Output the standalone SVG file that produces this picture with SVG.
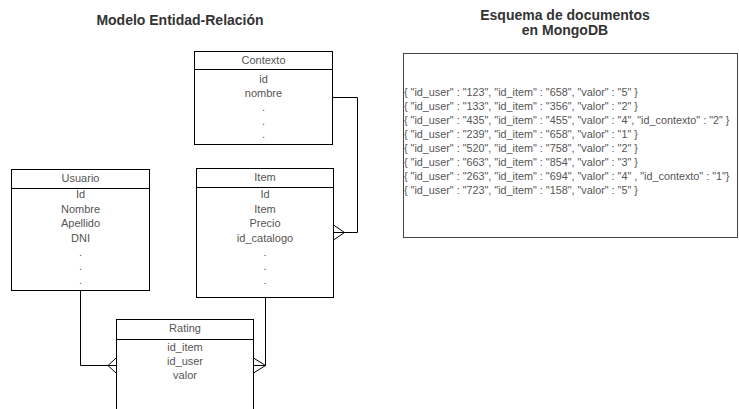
<svg xmlns="http://www.w3.org/2000/svg" width="739" height="409" viewBox="0 0 739 409">
<style>
.title{font-family:"Liberation Sans",Arial,sans-serif;font-size:14px;font-weight:bold;fill:#333;text-anchor:middle}
.ent{fill:#fff;stroke:#000;stroke-width:1}
.hdr{stroke:#000;stroke-width:1}
.t{font-family:"Liberation Sans",Arial,sans-serif;font-size:11px;fill:#555;text-anchor:middle}
.doc{font-family:"Liberation Sans",Arial,sans-serif;font-size:10.8px;fill:#555}
.edge{fill:none;stroke:#000;stroke-width:1}
</style>
<rect width="739" height="409" fill="#fff"/>
<g id="titles">
<text class="title" x="180" y="25">Modelo Entidad-Relación</text>
<text class="title" x="565" y="20">Esquema de documentos</text>
<text class="title" x="565" y="35">en MongoDB</text>
</g>
<g id="connectors">
<path class="edge" d="M332.5,97.5 H357.5 V232.5 H333.5"/>
<path class="edge" d="M333.5,225 L344.5,232.5 L333.5,240"/>
<path class="edge" d="M80.5,290.5 V365.5 H116"/>
<path class="edge" d="M116,358 L108,365.5 L116,373"/>
<path class="edge" d="M265.5,297.5 V365.5 H253.5"/>
<path class="edge" d="M253.5,358 L265.5,365.5 L253.5,373"/>
</g>
<g id="contexto">
<rect class="ent" x="194.5" y="51.5" width="138" height="93"/>
<line class="hdr" x1="194.5" y1="69.5" x2="332.5" y2="69.5"/>
<text class="t" x="263.5" y="64">Contexto</text>
<text class="t" x="263.5" y="83">id</text>
<text class="t" x="263.5" y="97">nombre</text>
<text class="t" x="263.5" y="111">.</text>
<text class="t" x="263.5" y="124.5">.</text>
<text class="t" x="263.5" y="138">.</text>
</g>
<g id="usuario">
<rect class="ent" x="11.5" y="169.5" width="138" height="121"/>
<line class="hdr" x1="11.5" y1="188.5" x2="149.5" y2="188.5"/>
<text class="t" x="80.5" y="182">Usuario</text>
<text class="t" x="80.5" y="198">Id</text>
<text class="t" x="80.5" y="212.5">Nombre</text>
<text class="t" x="80.5" y="227">Apellido</text>
<text class="t" x="80.5" y="241.5">DNI</text>
<text class="t" x="80.5" y="256">.</text>
<text class="t" x="80.5" y="270">.</text>
<text class="t" x="80.5" y="284">.</text>
</g>
<g id="item">
<rect class="ent" x="196.5" y="168.5" width="137" height="129"/>
<line class="hdr" x1="196.5" y1="187.5" x2="333.5" y2="187.5"/>
<text class="t" x="265" y="181">Item</text>
<text class="t" x="265" y="198">Id</text>
<text class="t" x="265" y="212.5">Item</text>
<text class="t" x="265" y="227">Precio</text>
<text class="t" x="265" y="241.5">id_catalogo</text>
<text class="t" x="265" y="256">.</text>
<text class="t" x="265" y="270">.</text>
<text class="t" x="265" y="284">.</text>
</g>
<g id="rating">
<rect class="ent" x="116.5" y="319.5" width="137" height="110"/>
<line class="hdr" x1="116.5" y1="339.5" x2="253.5" y2="339.5"/>
<text class="t" x="185" y="332">Rating</text>
<text class="t" x="185" y="351">id_item</text>
<text class="t" x="185" y="365">id_user</text>
<text class="t" x="185" y="379">valor</text>
</g>
<g id="mongodb">
<rect x="403.5" y="53.5" width="334" height="184" fill="#fff" stroke="#444" stroke-width="1"/>
<text class="doc" x="404" y="96">{ "id_user" : "123", "id_item" : "658", "valor" : "5" }</text>
<text class="doc" x="404" y="110">{ "id_user" : "133", "id_item" : "356", "valor" : "2" }</text>
<text class="doc" x="404" y="124">{ "id_user" : "435", "id_item" : "455", "valor" : "4", "id_contexto" : "2" }</text>
<text class="doc" x="404" y="138">{ "id_user" : "239", "id_item" : "658", "valor" : "1" }</text>
<text class="doc" x="404" y="152">{ "id_user" : "520", "id_item" : "758", "valor" : "2" }</text>
<text class="doc" x="404" y="166">{ "id_user" : "663", "id_item" : "854", "valor" : "3" }</text>
<text class="doc" x="404" y="180">{ "id_user" : "263", "id_item" : "694", "valor" : "4" , "id_contexto" : "1"}</text>
<text class="doc" x="404" y="194">{ "id_user" : "723", "id_item" : "158", "valor" : "5" }</text>
</g>
</svg>
